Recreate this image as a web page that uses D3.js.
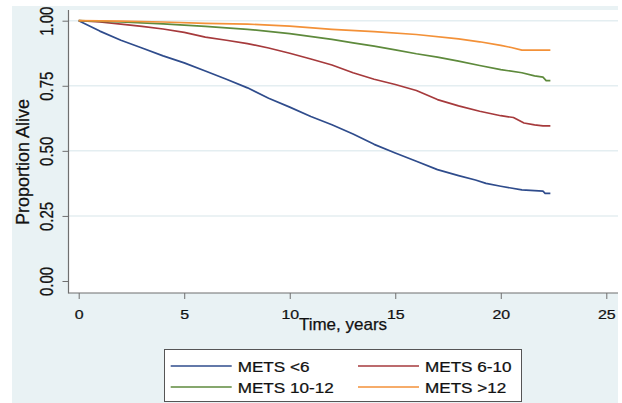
<!DOCTYPE html>
<html>
<head>
<meta charset="utf-8">
<script src="https://cdn.jsdelivr.net/npm/d3@7"></script>
<style>
  html, body { margin: 0; padding: 0; background: #fff; }
  svg { display: block; font-family: "Liberation Sans", Arial, sans-serif; }
  svg text { stroke: #111; stroke-width: 0.25px; }
</style>
</head>
<body>
<div id="chart"></div>
<script>
// Kaplan-Meier style survival curves by METS group

const metsLt6 = [
    [0, 1.0], [1, 0.96], [2, 0.925], [3, 0.895], [4, 0.865], [5, 0.838], [6, 0.807],
    [7, 0.775], [8, 0.742], [9, 0.702], [10, 0.668], [11, 0.632], [12, 0.6], [13, 0.565],
    [14, 0.525], [15, 0.492], [16, 0.46], [17, 0.428], [18, 0.405], [18.8, 0.388],
    [19.3, 0.375], [20, 0.364], [21, 0.35], [22, 0.345], [22.1, 0.337], [22.35, 0.337]
];
const mets6to10 = [
    [0, 1.0], [1, 0.995], [2, 0.987], [3, 0.978], [4, 0.968], [5, 0.955], [6, 0.937],
    [7, 0.925], [8, 0.912], [9, 0.895], [10, 0.875], [11, 0.853], [12, 0.83], [13, 0.8],
    [14, 0.775], [15, 0.755], [16, 0.732], [17, 0.697], [18, 0.673], [19, 0.652],
    [20, 0.635], [20.6, 0.628], [21.1, 0.607], [21.6, 0.6], [22, 0.596], [22.35, 0.596]
];
const mets10to12 = [
    [0, 1.0], [2, 0.995], [4, 0.988], [6, 0.978], [8, 0.967], [10, 0.95], [12, 0.928],
    [13, 0.915], [14, 0.902], [15, 0.888], [16, 0.873], [17, 0.86], [18, 0.845],
    [19, 0.828], [20, 0.812], [21, 0.8], [21.6, 0.788], [22, 0.783], [22.15, 0.77], [22.35, 0.77]
];
const metsGt12 = [
    [0, 1.0], [2, 0.998], [4, 0.995], [6, 0.99], [8, 0.987], [10, 0.979], [12, 0.967],
    [14, 0.958], [16, 0.947], [18, 0.93], [19, 0.919], [20, 0.905], [20.5, 0.897],
    [21, 0.887], [22.35, 0.887]
];

const seriesNames = ['METS <6', 'METS 6-10', 'METS 10-12', 'METS >12'];
const seriesColors = ['#2f4c8c', '#a63a3c', '#5e8a3c', '#f39138'];
const seriesData = [metsLt6, mets6to10, mets10to12, metsGt12];

const xTicks = [0, 5, 10, 15, 20, 25];
const yTicks = [0, 0.25, 0.5, 0.75, 1];
const yTickLabels = ['0.00', '0.25', '0.50', '0.75', '1.00'];

(function () {
    const W = 622, H = 403;
    const STRETCH = 1.18; // text in the picture looks horizontally stretched
    const plot = { left: 68.5, right: 618, top: 10, bottom: 293 };

    const svg = d3.select('#chart').append('svg').attr('width', W).attr('height', H);

    svg.append('defs').append('clipPath').attr('id', 'graphClip')
        .append('rect').attr('x', 12).attr('y', 6).attr('width', 606).attr('height', H - 6);

    const graph = svg.append('g').attr('clip-path', 'url(#graphClip)');
    graph.append('rect').attr('x', 12).attr('y', 6).attr('width', 606).attr('height', H - 6).attr('fill', '#e9f2f4');
    graph.append('rect').attr('x', plot.left).attr('y', plot.top)
        .attr('width', plot.right - plot.left).attr('height', plot.bottom - plot.top).attr('fill', '#fff');

    const x = d3.scaleLinear().domain([0, 25]).range([78.7, 606.3]);
    const y = d3.scaleLinear().domain([0, 1]).range([281, 20.7]);

    // gridlines
    graph.append('g').selectAll('line').data(yTicks.filter(d => d > 0)).enter().append('line')
        .attr('x1', plot.left).attr('x2', plot.right)
        .attr('y1', d => y(d)).attr('y2', d => y(d))
        .attr('stroke', '#e4eef1').attr('stroke-width', 1.5);

    // curves
    const line = d3.line().x(d => x(d[0])).y(d => y(d[1]));
    graph.append('g').selectAll('path').data(seriesData).enter().append('path')
        .attr('d', line).attr('fill', 'none')
        .attr('stroke', (d, i) => seriesColors[i]).attr('stroke-width', 1.7)
        .attr('stroke-linejoin', 'round');

    // axes
    const axisColor = '#6f6f6f';
    const xAxis = d3.axisBottom(x).tickValues(xTicks).tickSize(6).tickSizeOuter(0).tickFormat(d3.format('d'));
    const gx = graph.append('g').attr('transform', `translate(0,${plot.bottom})`).call(xAxis);
    gx.select('.domain').remove();
    gx.selectAll('line').attr('stroke', axisColor);
    gx.selectAll('text').attr('y', null).attr('dy', null)
        .attr('transform', `translate(0,25.5) scale(${STRETCH},1)`)
        .attr('fill', '#111').style('font-size', '13.5px');

    const yAxis = d3.axisLeft(y).tickValues(yTicks).tickSize(6).tickSizeOuter(0)
        .tickFormat((d, i) => yTickLabels[i]);
    const gy = graph.append('g').attr('transform', `translate(${plot.left},0)`).call(yAxis);
    gy.select('.domain').remove();
    gy.selectAll('line').attr('stroke', axisColor);
    gy.selectAll('text').attr('x', null).attr('dy', null)
        .attr('text-anchor', 'middle')
        .attr('transform', `translate(-15.5,0) scale(${STRETCH},1) rotate(-90)`)
        .attr('fill', '#111').style('font-size', '15px');

    graph.append('line').attr('x1', plot.left).attr('x2', plot.left)
        .attr('y1', plot.top).attr('y2', plot.bottom + 0.5).attr('stroke', axisColor).attr('stroke-width', 1.2);
    graph.append('line').attr('x1', plot.left).attr('x2', plot.right)
        .attr('y1', plot.bottom).attr('y2', plot.bottom).attr('stroke', axisColor).attr('stroke-width', 1.2);

    // axis titles
    graph.append('text').attr('transform', `translate(343,330)`)
        .attr('text-anchor', 'middle').attr('fill', '#111').style('font-size', '17px').text('Time, years');
    graph.append('text').attr('transform', `translate(29,162) rotate(-90)`)
        .attr('text-anchor', 'middle').attr('fill', '#111').style('font-size', '18px').text('Proportion Alive');

    // legend
    const lg = graph.append('g');
    lg.append('rect').attr('x', 164.5).attr('y', 349.5).attr('width', 357).attr('height', 52)
        .attr('fill', '#fff').attr('stroke', '#555').attr('stroke-width', 1);
    const cols = [170.7, 358];
    const rows = [366, 387];
    seriesNames.forEach((name, i) => {
        const cx = cols[i % 2], cy = rows[Math.floor(i / 2)];
        lg.append('line').attr('x1', cx).attr('x2', cx + 61).attr('y1', cy).attr('y2', cy)
            .attr('stroke', seriesColors[i]).attr('stroke-width', 1.7);
        lg.append('text').attr('transform', `translate(${cx + 67},${cy + 5.5}) scale(${STRETCH},1)`)
            .attr('fill', '#111').style('font-size', '14.5px').text(name);
    });
})();
</script>
</body>
</html>
